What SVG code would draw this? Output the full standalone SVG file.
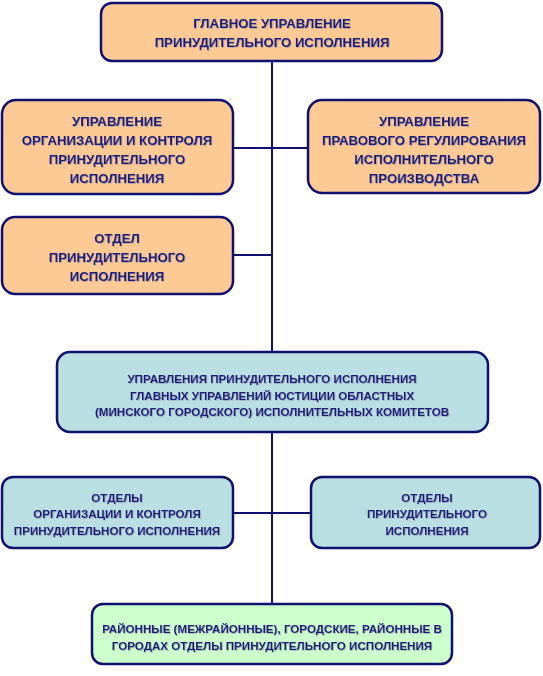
<svg xmlns="http://www.w3.org/2000/svg" width="543" height="676" viewBox="0 0 543 676">
<style>
.b{stroke:#10106e;stroke-width:2.5}
.o{fill:#fdc995}
.c{fill:#b9dfe2}
.g{fill:#ccffcc}
.t{font-family:"Liberation Sans",Arial,sans-serif;font-weight:bold;font-size:13.2px;fill:#1a1a78;text-anchor:middle}
.s{font-size:11.6px}
.l{stroke:#10106e;stroke-width:2;fill:none}
</style>
<defs>
<filter id="sh" x="-5%" y="-5%" width="110%" height="110%">
<feDropShadow dx="0.8" dy="0.8" stdDeviation="0.4" flood-color="#8080a0" flood-opacity="0.6"/>
</filter>
</defs>
<rect width="543" height="676" fill="#ffffff"/>
<g id="connectors">
<line class="l" x1="272" y1="61" x2="272" y2="353"/>
<line class="l" x1="272" y1="432" x2="272" y2="604"/>
<line class="l" x1="233" y1="148" x2="308" y2="148"/>
<line class="l" x1="233" y1="255" x2="272" y2="255"/>
<line class="l" x1="233" y1="513" x2="311" y2="513"/>
</g>
<g id="n1">
<rect class="b o" x="101" y="3" width="341" height="58" rx="11"/>
<text class="t" filter="url(#sh)" x="272" y="28">ГЛАВНОЕ УПРАВЛЕНИЕ</text>
<text class="t" filter="url(#sh)" x="272" y="47">ПРИНУДИТЕЛЬНОГО ИСПОЛНЕНИЯ</text>
</g>
<g id="n2">
<rect class="b o" x="2" y="100" width="231" height="94" rx="14"/>
<text class="t" filter="url(#sh)" x="117" y="126">УПРАВЛЕНИЕ</text>
<text class="t" filter="url(#sh)" x="117" y="145">ОРГАНИЗАЦИИ И КОНТРОЛЯ</text>
<text class="t" filter="url(#sh)" x="117" y="164">ПРИНУДИТЕЛЬНОГО</text>
<text class="t" filter="url(#sh)" x="117" y="183">ИСПОЛНЕНИЯ</text>
</g>
<g id="n3">
<rect class="b o" x="308" y="100" width="232" height="93" rx="14"/>
<text class="t" filter="url(#sh)" x="424" y="126">УПРАВЛЕНИЕ</text>
<text class="t" filter="url(#sh)" x="424" y="145">ПРАВОВОГО РЕГУЛИРОВАНИЯ</text>
<text class="t" filter="url(#sh)" x="424" y="164">ИСПОЛНИТЕЛЬНОГО</text>
<text class="t" filter="url(#sh)" x="424" y="183">ПРОИЗВОДСТВА</text>
</g>
<g id="n4">
<rect class="b o" x="2" y="217" width="231" height="77" rx="13"/>
<text class="t" filter="url(#sh)" x="117" y="243">ОТДЕЛ</text>
<text class="t" filter="url(#sh)" x="117" y="262">ПРИНУДИТЕЛЬНОГО</text>
<text class="t" filter="url(#sh)" x="117" y="280.5">ИСПОЛНЕНИЯ</text>
</g>
<g id="n5">
<rect class="b c" x="57" y="352" width="431" height="80" rx="13"/>
<text class="t s" filter="url(#sh)" x="272" y="383">УПРАВЛЕНИЯ ПРИНУДИТЕЛЬНОГО ИСПОЛНЕНИЯ</text>
<text class="t s" filter="url(#sh)" x="272" y="400">ГЛАВНЫХ УПРАВЛЕНИЙ ЮСТИЦИИ ОБЛАСТНЫХ</text>
<text class="t s" filter="url(#sh)" x="272" y="416">(МИНСКОГО ГОРОДСКОГО) ИСПОЛНИТЕЛЬНЫХ КОМИТЕТОВ</text>
</g>
<g id="n6">
<rect class="b c" x="2" y="477" width="231" height="71" rx="11"/>
<text class="t s" filter="url(#sh)" x="117" y="501.5">ОТДЕЛЫ</text>
<text class="t s" filter="url(#sh)" x="117" y="518">ОРГАНИЗАЦИИ И КОНТРОЛЯ</text>
<text class="t s" filter="url(#sh)" x="117" y="534.5">ПРИНУДИТЕЛЬНОГО ИСПОЛНЕНИЯ</text>
</g>
<g id="n7">
<rect class="b c" x="311" y="477" width="229" height="71" rx="11"/>
<text class="t s" filter="url(#sh)" x="427" y="501.5">ОТДЕЛЫ</text>
<text class="t s" filter="url(#sh)" x="427" y="518">ПРИНУДИТЕЛЬНОГО</text>
<text class="t s" filter="url(#sh)" x="427" y="534.5">ИСПОЛНЕНИЯ</text>
</g>
<g id="n8">
<rect class="b g" x="92" y="604" width="360" height="60" rx="11"/>
<text class="t s" filter="url(#sh)" x="272" y="633" font-size="11.8px">РАЙОННЫЕ (МЕЖРАЙОННЫЕ), ГОРОДСКИЕ, РАЙОННЫЕ В</text>
<text class="t s" filter="url(#sh)" x="272" y="650" font-size="11.8px">ГОРОДАХ ОТДЕЛЫ ПРИНУДИТЕЛЬНОГО ИСПОЛНЕНИЯ</text>
</g>
</svg>
